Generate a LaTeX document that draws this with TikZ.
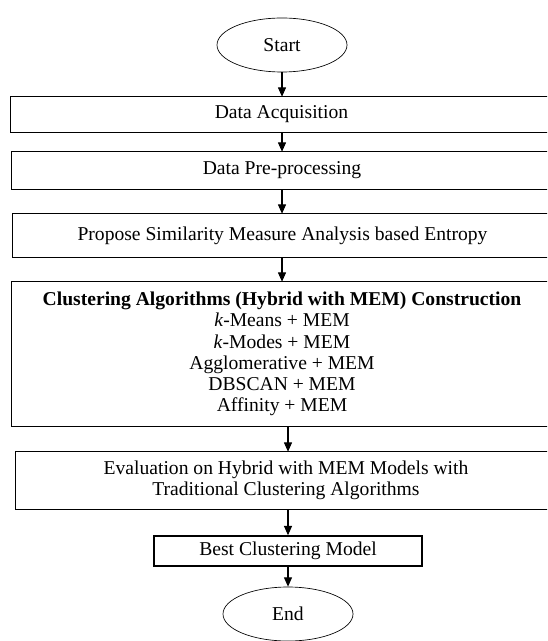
\documentclass[tikz,border=0pt]{standalone}
\usepackage{fontspec}
\setmainfont{Liberation Serif}
\usetikzlibrary{arrows.meta,shapes.geometric}

\tikzset{
  stepbox/.style={rectangle, align=center, inner sep=0pt},
  boxline/.style={line width=1.1pt},
  termnode/.style={draw, line width=0.5pt, ellipse, minimum width=97.5pt, minimum height=40.5pt, inner sep=0pt},
  arr/.style={line width=0.8pt, -{Triangle[length=7pt,width=6pt]}}
}

\begin{document}
\begin{tikzpicture}[x=0.75pt,y=0.75pt,yscale=-1,xscale=1, font=\fontsize{14.7}{15.9}\selectfont]
\useasboundingbox (0,0) rectangle (547,641);
\clip (0,0) rectangle (547,641);

%Shape: Ellipse [id:start]
\node [termnode] (start) at (282,45) {Start};
%Shape: Rectangle [id:acq]
\node [stepbox, minimum width=405.75pt, minimum height=26.25pt] (acq) at (281.5,114.5) {Data Acquisition};
%Shape: Rectangle [id:prep]
\node [stepbox, minimum width=405pt, minimum height=27.75pt] (prep) at (282,170.5) {Data Pre-processing};
%Shape: Rectangle [id:sim]
\node [stepbox, minimum width=404.25pt, minimum height=32.25pt] (sim) at (282.5,235.5) {Propose Similarity Measure Analysis based Entropy};
%Shape: Rectangle [id:clus]
\node [stepbox, minimum width=405pt, minimum height=108pt] (clus) at (282,354) {\textbf{Clustering Algorithms (Hybrid with MEM) Construction}\\
  \textit{k}-Means + MEM\\
  \textit{k}-Modes + MEM\\
  Agglomerative + MEM\\
  DBSCAN + MEM\\
  Affinity + MEM};
%Shape: Rectangle [id:eval]
\node [stepbox, minimum width=405pt, minimum height=42.75pt] (eval) at (286,480.5) {Evaluation on Hybrid with MEM Models with\\ Traditional Clustering Algorithms};
%Shape: Rectangle [id:best]
\node [stepbox, draw, boxline, minimum width=201pt, minimum height=22.5pt] (best) at (288,551) {Best Clustering Model};
%Shape: Ellipse [id:end]
\node [termnode] (end) at (288,614) {End};

%Box borders, cut off at the right edge of the page
\foreach \b in {acq,prep,sim,clus,eval}
  \draw [boxline] ([xshift=30pt]\b.north east) -- (\b.north west) -- (\b.south west) -- ([xshift=30pt]\b.south east);

%Straight Lines [arrows]
\draw [arr] (start.south) -- (start.south |- acq.north);
\draw [arr] (start.south |- acq.south) -- (start.south |- prep.north);
\draw [arr] (start.south |- prep.south) -- (start.south |- sim.north);
\draw [arr] (start.south |- sim.south) -- (start.south |- clus.north);
\draw [arr] (best.north |- clus.south) -- (best.north |- eval.north);
\draw [arr] (best.north |- eval.south) -- (best.north);
\draw [arr] (best.south) -- (end.north);

\end{tikzpicture}
\end{document}
